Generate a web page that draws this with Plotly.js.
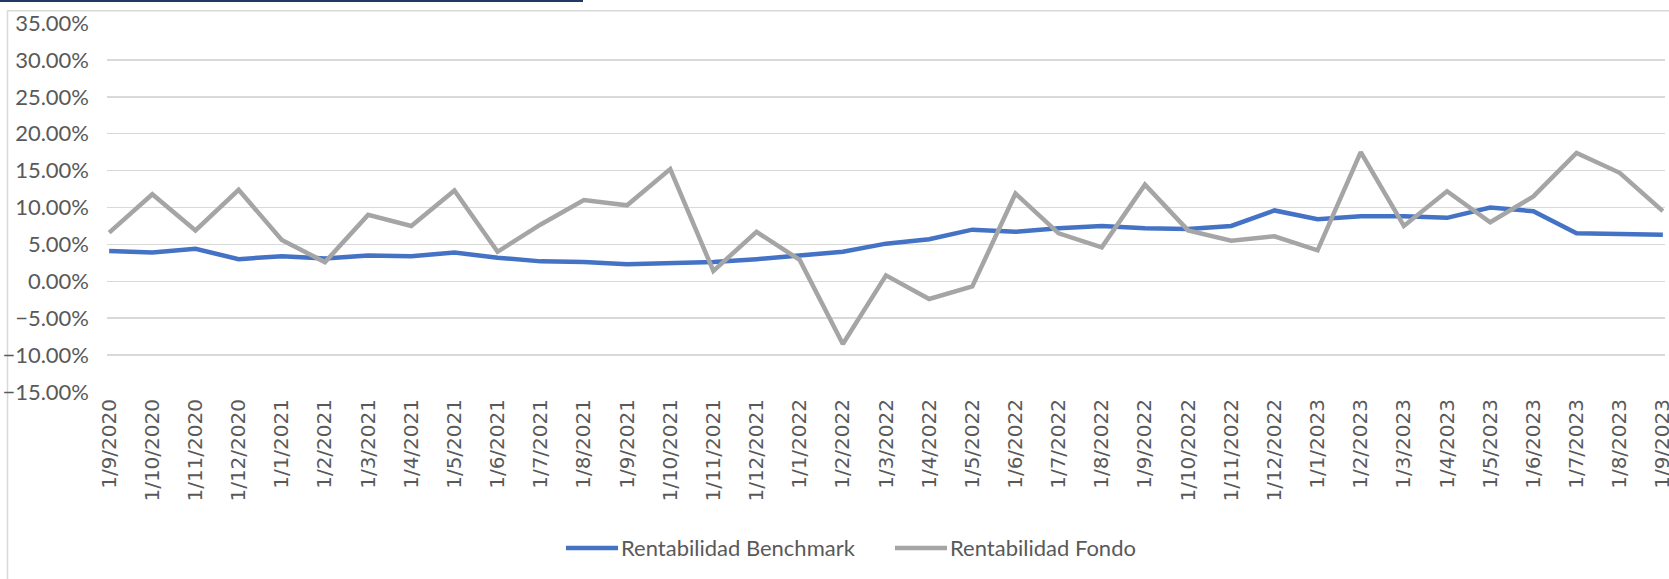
<!DOCTYPE html>
<html>
<head>
<meta charset="utf-8">
<script src="https://cdn.plot.ly/plotly-3.0.1.min.js"></script>
<style>
  html, body { margin: 0; padding: 0; background: #ffffff; }
  #chart { width: 1669px; height: 579px; }
</style>
</head>
<body>
<div id="chart"></div>
<script>
// ---- data ----
const dates = [
  '1/9/2020','1/10/2020','1/11/2020','1/12/2020',
  '1/1/2021','1/2/2021','1/3/2021','1/4/2021','1/5/2021','1/6/2021',
  '1/7/2021','1/8/2021','1/9/2021','1/10/2021','1/11/2021','1/12/2021',
  '1/1/2022','1/2/2022','1/3/2022','1/4/2022','1/5/2022','1/6/2022',
  '1/7/2022','1/8/2022','1/9/2022','1/10/2022','1/11/2022','1/12/2022',
  '1/1/2023','1/2/2023','1/3/2023','1/4/2023','1/5/2023','1/6/2023',
  '1/7/2023','1/8/2023','1/9/2023'
];
const benchmark = [
  0.041, 0.039, 0.044, 0.030,
  0.034, 0.031, 0.035, 0.034, 0.039, 0.032,
  0.027, 0.026, 0.023, 0.025, 0.026, 0.030,
  0.035, 0.040, 0.051, 0.057, 0.070, 0.067,
  0.072, 0.075, 0.072, 0.071, 0.075, 0.096,
  0.084, 0.088, 0.088, 0.086, 0.100, 0.095,
  0.065, 0.064, 0.063
];
const fondo = [
  0.066, 0.118, 0.069, 0.124,
  0.056, 0.026, 0.090, 0.075, 0.123, 0.040,
  0.077, 0.110, 0.103, 0.152, 0.014, 0.067,
  0.029, -0.085, 0.008, -0.024, -0.007, 0.119,
  0.065, 0.046, 0.131, 0.069, 0.055, 0.061,
  0.042, 0.175, 0.075, 0.122, 0.080, 0.115,
  0.174, 0.147, 0.095
];
const seriesNames = ['Rentabilidad Benchmark', 'Rentabilidad Fondo'];
const seriesColors = ['#4472C4', '#A5A5A5'];

// ---- layout helpers ----
const W = 1669, H = 579;
const M = { l: 107, r: 4, t: 23, b: 187 };
const pw = W - M.l - M.r, ph = H - M.t - M.b;
const px = x => (x - M.l) / pw;
const py = y => 1 - (y - M.t) / ph;

const textColor = '#595959';
const labelFont = 'Lato, "Liberation Sans", Arial, sans-serif';

const traces = [
  { x: dates, y: benchmark, name: seriesNames[0], type: 'scatter', mode: 'lines',
    line: { color: seriesColors[0], width: 4.5 }, showlegend: false },
  { x: dates, y: fondo, name: seriesNames[1], type: 'scatter', mode: 'lines',
    line: { color: seriesColors[1], width: 4.5 }, showlegend: false }
];

const shapes = [
  // chart border
  { type: 'rect', xref: 'paper', yref: 'paper',
    x0: px(7.5), y0: py(10.7), x1: px(1700), y1: py(620),
    line: { color: '#D9D9D9', width: 1.5 }, fillcolor: 'rgba(0,0,0,0)', layer: 'below' },
  // top navy rule
  { type: 'line', xref: 'paper', yref: 'paper',
    x0: px(0), y0: py(1), x1: px(583), y1: py(1),
    line: { color: '#203864', width: 2 } },
  // legend samples
  { type: 'line', xref: 'paper', yref: 'paper',
    x0: px(566), y0: py(548), x1: px(618), y1: py(548),
    line: { color: seriesColors[0], width: 4.5 } },
  { type: 'line', xref: 'paper', yref: 'paper',
    x0: px(895), y0: py(548), x1: px(947), y1: py(548),
    line: { color: seriesColors[1], width: 4.5 } }
];

const annotations = [
  { xref: 'paper', yref: 'paper', x: px(619), y: py(547), xanchor: 'left', yanchor: 'middle',
    text: seriesNames[0], showarrow: false, font: { family: labelFont, size: 22, color: textColor } },
  { xref: 'paper', yref: 'paper', x: px(948), y: py(547), xanchor: 'left', yanchor: 'middle',
    text: seriesNames[1], showarrow: false, font: { family: labelFont, size: 22, color: textColor } }
];

const layout = {
  width: W, height: H,
  margin: M,
  paper_bgcolor: '#ffffff', plot_bgcolor: '#ffffff',
  showlegend: false,
  xaxis: {
    type: 'category',
    range: [-0.05, dates.length - 1 + 0.05],
    showgrid: false, zeroline: false, showline: false,
    ticks: '', tickangle: -90,
    ticklabelstandoff: 2,
    tickfont: { family: '"DejaVu Sans", Verdana, sans-serif', size: 20, color: textColor },
    fixedrange: true
  },
  yaxis: {
    range: [-0.15, 0.35],
    dtick: 0.05, tick0: 0,
    tickformat: '.2%',
    showgrid: true, gridcolor: '#D9D9D9', gridwidth: 1.5,
    zeroline: false, showline: false, ticks: '',
    ticklabelstandoff: 17,
    tickfont: { family: labelFont, size: 22, color: textColor },
    fixedrange: true
  },
  shapes: shapes,
  annotations: annotations
};

Plotly.newPlot('chart', traces, layout, { displayModeBar: false, staticPlot: true });
</script>
</body>
</html>
